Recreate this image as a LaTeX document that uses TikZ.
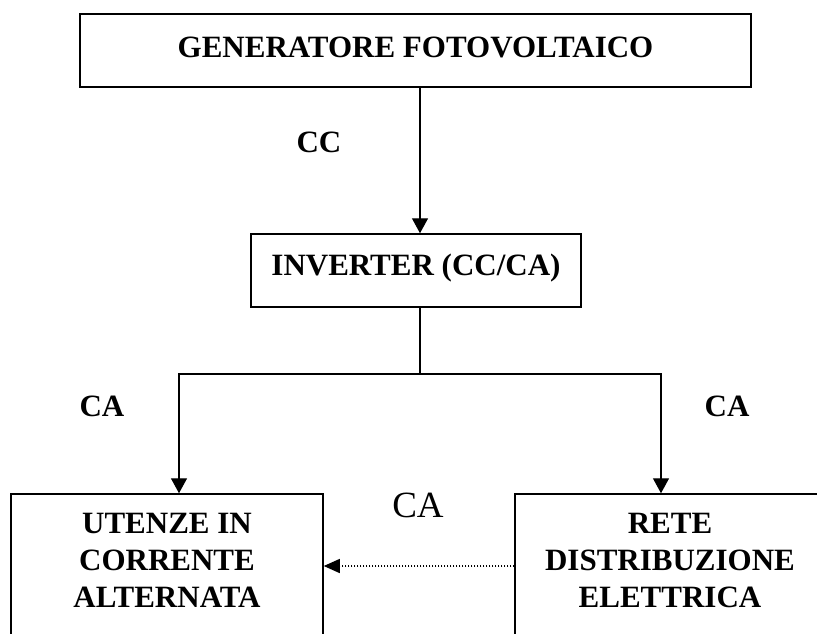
\documentclass[tikz,border=0pt]{standalone}
\usepackage{fontspec}
\setmainfont{Liberation Serif}
\usetikzlibrary{arrows.meta}
\begin{document}
\begin{tikzpicture}[x=1pt,y=-1pt,
  box/.style={draw, line width=1.5pt, inner sep=0pt},
  lbl/.style={font=\fontsize{31}{37}\selectfont\bfseries, inner sep=0pt, align=center},
  plain/.style={font=\fontsize{37}{40}\selectfont, inner sep=0pt},
  wire/.style={line width=1.4pt},
  conn/.style={line width=1.4pt, -{Triangle[width=16pt,length=15pt]}},
  dots/.style={line width=1.4pt, dash pattern=on 1.4pt off 1.6pt, -{Triangle[width=14pt,length=16pt]}}]
\useasboundingbox (0,0) rectangle (817,633);
\clip (0,0) rectangle (817,633);
% boxes
\node[box, minimum width=671pt, minimum height=73pt] (gen) at (415.5,50.5) {};
\node[lbl, anchor=base] (gent) at (415.5,57) {GENERATORE FOTOVOLTAICO};
\node[box, minimum width=330pt, minimum height=73pt] (inv) at (416,270.5) {};
\node[lbl, anchor=base] (invt) at (416,275) {INVERTER (CC/CA)};
\node[box, minimum width=312pt, minimum height=170pt] (ut) at (167,579) {};
\node[lbl, anchor=north] (utt) at (167,513) {UTENZE IN\\CORRENTE\\ALTERNATA};
\node[box, minimum width=310pt, minimum height=170pt] (rete) at (670,579) {};
\node[lbl, anchor=north] (retet) at (670,513) {RETE\\DISTRIBUZIONE\\ELETTRICA};
% labels
\node[lbl, anchor=base] (cc) at (319,152) {CC};
\node[lbl, anchor=base] (cal) at (102,416) {CA};
\node[lbl, anchor=base] (car) at (727,416) {CA};
\node[plain, anchor=base] (cam) at (418,517) {CA};
% connectors
\coordinate (mx) at (420,0);
\coordinate (lx) at (179,0);
\coordinate (rx) at (661,0);
\coordinate (split) at (420,374);
\coordinate (dy) at (0,566);
\draw[conn] (gen.south -| mx) -- (inv.north -| mx);
\draw[wire] (inv.south -| mx) -- (split);
\draw[conn] (split) -| (ut.north -| lx);
\draw[conn] (split) -| (rete.north -| rx);
\draw[dots] (rete.west |- dy) -- (ut.east |- dy);
\end{tikzpicture}
\end{document}
